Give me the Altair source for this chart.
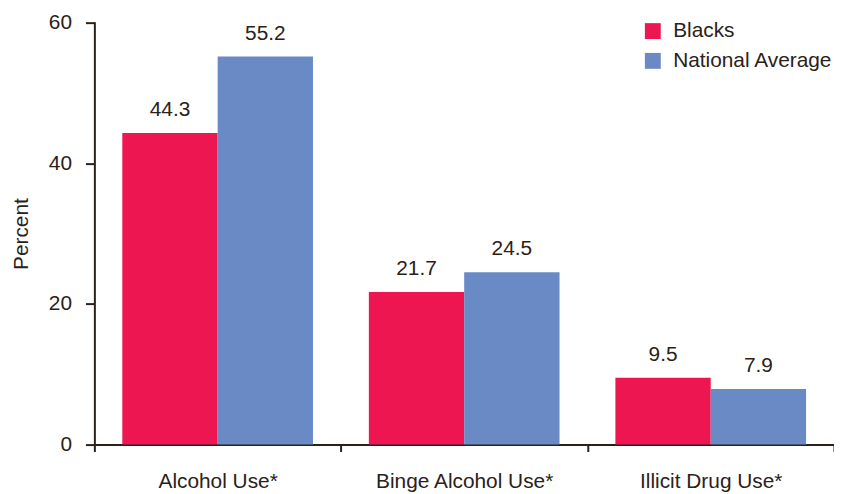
import altair as alt
import pandas as pd

categories = ["Alcohol Use*", "Binge Alcohol Use*", "Illicit Drug Use*"]
groups = ["Blacks", "National Average"]
blacks = [44.3, 21.7, 9.5]
national = [55.2, 24.5, 7.9]
colors = ["#ED1651", "#6A8AC6"]

rows = []
for c, b, n in zip(categories, blacks, national):
    rows.append({"cat": c, "group": groups[0], "value": b, "label": f"{b:.1f}"})
    rows.append({"cat": c, "group": groups[1], "value": n, "label": f"{n:.1f}"})
df = pd.DataFrame(rows)

FONT = "Liberation Sans"
INK = "#2B2118"

x = alt.X("cat:N", sort=categories, title=None,
          scale=alt.Scale(paddingInner=0, paddingOuter=0),
          axis=alt.Axis(labelAngle=0, tickBand="extent", tickSize=7, tickWidth=2,
                        domainWidth=2, domainColor=INK, tickColor=INK,
                        labelFontSize=21, labelFont=FONT, labelColor=INK,
                        labelPadding=19, grid=False))
xo = alt.XOffset("group:N", sort=groups,
                 scale=alt.Scale(paddingInner=0, paddingOuter=0.293))
y = alt.Y("value:Q", title="Percent",
          scale=alt.Scale(domain=[0, 60], nice=False),
          axis=alt.Axis(values=[0, 20, 40, 60], tickSize=9, tickWidth=2, domainWidth=2,
                        domainColor=INK, tickColor=INK, labelFontSize=21, labelFont=FONT,
                        labelColor=INK, labelPadding=14, titleFontSize=21, titleFont=FONT,
                        titleFontWeight="normal", titleColor=INK, titlePadding=17, grid=False))
color = alt.Color("group:N", sort=groups, title=None,
                  scale=alt.Scale(domain=groups, range=colors),
                  legend=alt.Legend(orient="none", legendX=552, legendY=-2,
                                    symbolType="square", symbolSize=256,
                                    symbolStrokeWidth=0, labelFontSize=21, labelFont=FONT,
                                    labelColor=INK, labelOffset=10, rowPadding=8,
                                    labelLimit=400))

bars = alt.Chart(df).mark_bar().encode(x=x, xOffset=xo, y=y, color=color)
text = alt.Chart(df).mark_text(baseline="alphabetic", dy=-17, fontSize=21, font=FONT,
                               color=INK).encode(x=x, xOffset=xo, y=y, text="label:N")

chart = (bars + text).properties(
    width=745, height=425,
    autosize=alt.AutoSizeParams(type="none"),
    padding={"left": 87, "top": 13, "right": 0, "bottom": 46},
).configure_view(stroke=None).configure_axis(domainCap="square")

chart.save("out.html", embed_options={"renderer": "svg", "actions": False})
